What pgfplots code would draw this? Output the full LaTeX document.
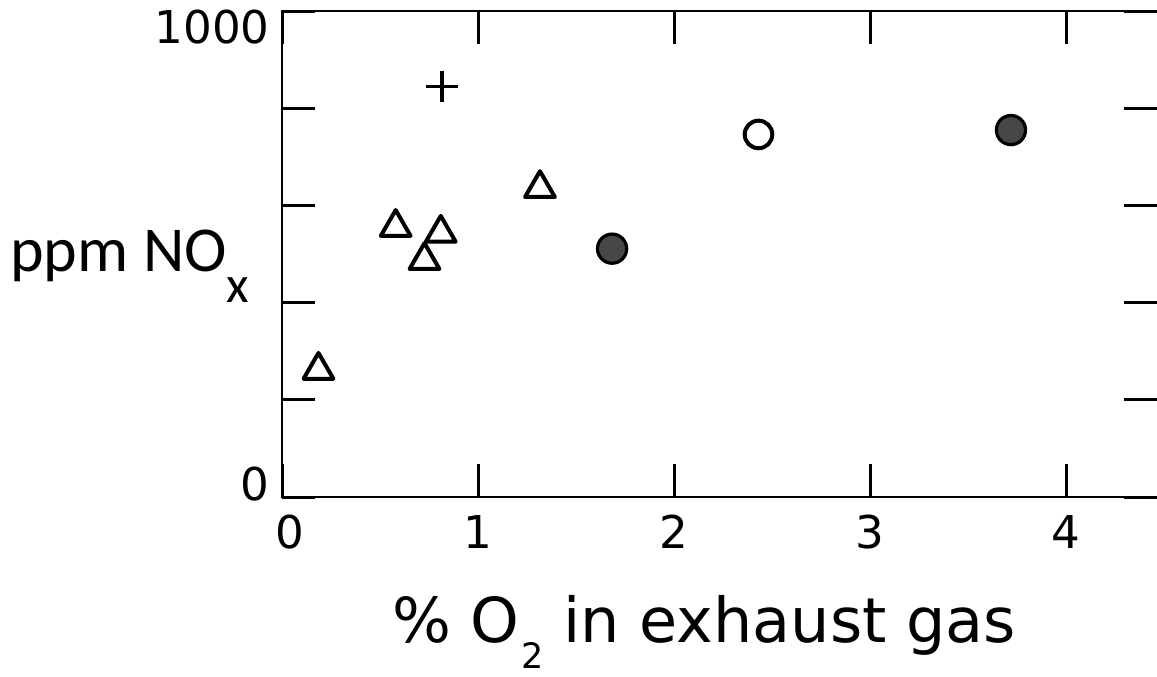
\documentclass[border=0pt]{standalone}
\usepackage{pgfplots}
\pgfplotsset{compat=1.18}
\usepackage{fontspec}
\setmainfont{DejaVu Sans}
\newfontfamily\labelfont{Carlito}

\begin{document}
\begin{tikzpicture}
\useasboundingbox (0,0) rectangle (578.5pt,338pt);
\begin{axis}[
  at={(141pt,89.5pt)}, anchor=south west,
  scale only axis, width=437.5pt, height=243pt,
  xmin=0, xmax=4.464, ymin=0, ymax=1000,
  clip=false,
  axis line style={draw=none},
  xtick={0,1,2,3,4},
  xticklabels={{\hspace*{8pt}0},1,2,3,4},
  ytick={0,200,400,600,800,1000},
  yticklabels={{\raisebox{6.5pt}[\height][\depth]{0}},,,,,{\raisebox{-8pt}[\height][\depth]{1000}}},
  tick align=inside,
  major tick length=16.5pt,
  tick style={black, line width=1.5pt},
  xticklabel style={anchor=north, inner sep=0pt, yshift=-9pt},
  yticklabel style={anchor=east, inner sep=0pt, xshift=-6pt},
  ticklabel style={font=\fontsize{22.6}{26}\selectfont},
  /pgf/number format/assume math mode=true,
  xlabel={\% O\kern1pt\raisebox{-13pt}{\fontsize{17.5}{19}\selectfont 2} in exhaust gas},
  every axis x label/.style={at={(rel axis cs:0.4823,0)}, anchor=base,
    yshift=-72.5pt, inner sep=0pt, font=\fontsize{31}{36}\selectfont},
  ylabel={\labelfont ppm NO\raisebox{-15.5pt}{\fontsize{26}{30}\selectfont x}},
  every axis y label/.style={at={(rel axis cs:0,0.463)}, anchor=base west,
    xshift=-136pt, inner sep=0pt, font=\fontsize{32}{38}\selectfont},
]
% open triangles
\addplot[black, only marks, mark=triangle, mark size=8.6pt,
  mark options={line width=2pt, line join=round}]
  coordinates {(0.186,261) (0.58,555) (0.727,487) (0.81,543) (1.316,635)};
% cross
\addplot[black, only marks, mark=+, mark size=7.8pt,
  mark options={line width=1.8pt}]
  coordinates {(0.816,845)};
% open circle
\addplot[black, only marks, mark=o, mark size=6.9pt,
  mark options={line width=2pt}]
  coordinates {(2.431,746)};
% filled circles
\addplot[black, only marks, mark=*, mark size=7.3pt,
  mark options={draw=black, fill=black!72, line width=1.6pt}]
  coordinates {(1.684,511) (3.719,755)};
% frame: left, top and bottom sides
\draw[line width=1.4pt, line cap=rect]
  (rel axis cs:1,1) -- (rel axis cs:0,1) -- (rel axis cs:0,0) -- (rel axis cs:1,0);
\end{axis}
\end{tikzpicture}
\end{document}
